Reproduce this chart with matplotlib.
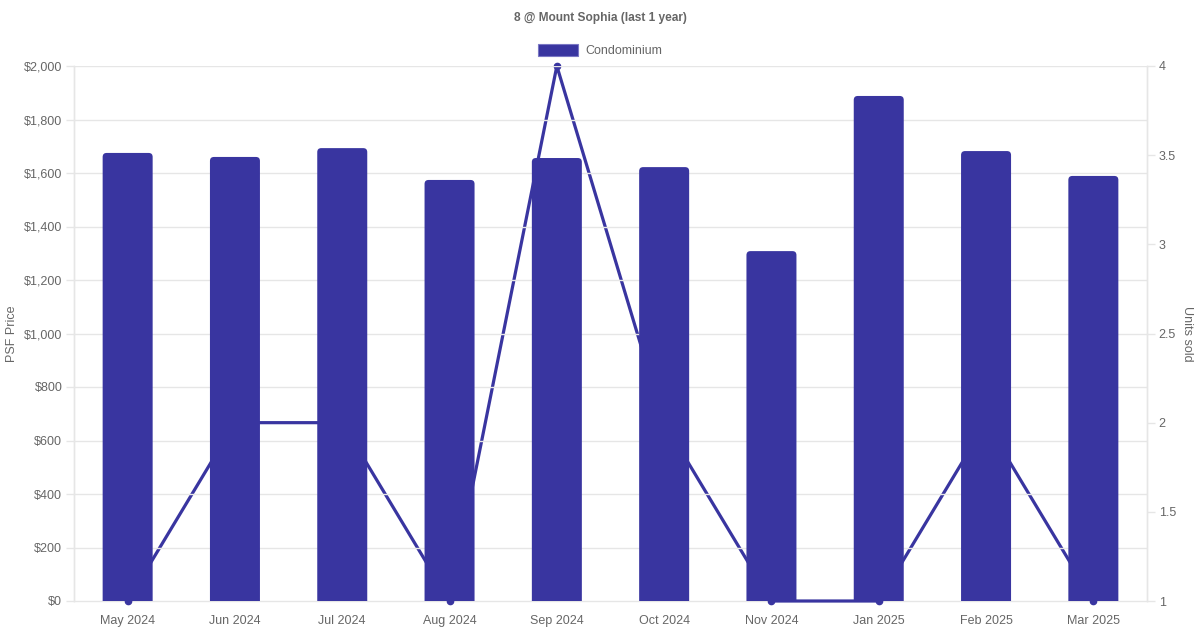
import matplotlib
matplotlib.use("Agg")
import matplotlib.pyplot as plt
from matplotlib.patches import FancyBboxPatch, Rectangle
from matplotlib.ticker import FuncFormatter, MultipleLocator

months = ["May 2024", "Jun 2024", "Jul 2024", "Aug 2024", "Sep 2024",
          "Oct 2024", "Nov 2024", "Jan 2025", "Feb 2025", "Mar 2025"]
psf_price = [1675, 1660, 1693, 1574, 1656, 1622, 1308, 1888, 1682, 1589]
units_sold = [1, 2, 2, 1, 4, 2, 1, 1, 2, 1]

title = "8 @ Mount Sophia (last 1 year)"
legend_label = "Condominium"
color = "#3935a0"
text_color = "#666666"
grid_color = "#e6e6e6"

plt.rcParams['font.family'] = ['Liberation Sans', 'DejaVu Sans']

fig = plt.figure(figsize=(12, 6.3), dpi=100)
ax = fig.add_axes([74/1200, 29/630, 1073/1200, 535/630])
ax2 = ax.twinx()

x = list(range(len(months)))

# line (right axis) behind bars
ax2.plot(x, units_sold, color=color, lw=2.3, marker="o", ms=4.5, clip_on=False, zorder=3)
ax2.set_ylim(1, 4)
ax2.yaxis.set_major_locator(MultipleLocator(0.5))
ax2.yaxis.set_major_formatter(FuncFormatter(lambda v, p: f"{v:g}"))

# bars (left axis), drawn on top
bars = ax.bar(x, psf_price, width=0.466, color=color, zorder=2)
ax.set_ylim(0, 2000)
ax.set_xlim(-0.5, len(months) - 0.5)
px_x = 1.0 / (1073 / len(months))
px_y = 2000 / 535
for r in bars:
    r.set_visible(False)
    rad = 4 * px_x
    p = FancyBboxPatch((r.get_x(), -40), r.get_width(), r.get_height() + 40,
                       boxstyle=f"round,pad=0,rounding_size={rad}",
                       mutation_aspect=px_y / px_x,
                       facecolor=color, edgecolor="none", zorder=2)
    ax.add_patch(p)

ax.set_zorder(ax2.get_zorder() + 1)
ax.patch.set_visible(False)

ax.yaxis.set_major_locator(MultipleLocator(200))
ax.yaxis.set_major_formatter(FuncFormatter(lambda v, p: f"${v:,.0f}"))
ax.set_xticks(x)
ax.set_xticklabels(months)

# horizontal gridlines (skip the baseline so the line on the right axis stays visible)
ymin, ymax = ax.get_ylim()
for v in ax.get_yticks():
    if ymin < v <= ymax:
        ax.axhline(v, color=grid_color, lw=1, zorder=0)

for a in (ax, ax2):
    for s in a.spines.values():
        s.set_color(grid_color)
        s.set_linewidth(1)
    a.spines["top"].set_visible(False)
ax.spines["bottom"].set_visible(False)
ax2.spines["bottom"].set_zorder(0.5)

ax.tick_params(axis="y", color=grid_color, labelcolor=text_color, length=6,
               width=1, labelsize=9, pad=2.4)
ax.tick_params(axis="x", length=0, labelsize=9, labelcolor=text_color, pad=10)
ax2.tick_params(axis="y", color=grid_color, labelcolor=text_color, length=6,
                width=1, labelsize=9, pad=2.4)

ax.set_ylabel("PSF Price", color=text_color, fontsize=9, labelpad=4)
ax2.set_ylabel("Units sold", color=text_color, fontsize=9, rotation=-90, labelpad=12)

fig.text(0.5, 1 - 18/630, title, ha="center", va="center", fontsize=8.6,
         fontweight="bold", color=text_color)

fig.patches.append(Rectangle((538/1200, 1 - 56/630), 40/1200, 12/630,
                             transform=fig.transFigure, facecolor=color,
                             edgecolor="#7a77c4", lw=0.8))
fig.text(585/1200, 1 - 51/630, legend_label, ha="left", va="center",
         fontsize=9, color=text_color)

fig.savefig("out.png", dpi=100)
